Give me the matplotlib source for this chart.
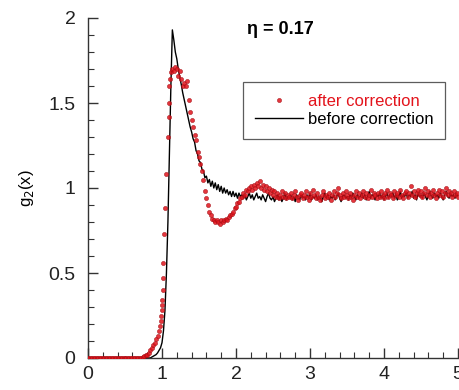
import numpy as np
import matplotlib
matplotlib.use("Agg")
import matplotlib.pyplot as plt
from matplotlib.ticker import MultipleLocator

plt.rcParams['font.family'] = ['Liberation Sans', 'DejaVu Sans']

# pair correlation g2(x), eta = 0.17
# before correction : black line
before_x_flat = np.arange(0.0, 0.85, 0.02)
before_y_flat = [0.0] * len(before_x_flat)
before_x = np.arange(0.86, 5.001, 0.02)
before_y = [
    0.005, 0.01, 0.015, 0.02, 0.03, 0.045, 0.06, 0.09, 0.16, 0.28,
    0.50, 0.80, 1.20, 1.60, 1.93, 1.87, 1.80, 1.76, 1.70, 1.65,
    1.61, 1.56, 1.52, 1.48, 1.44, 1.40, 1.36, 1.33, 1.29, 1.27,
    1.22, 1.20, 1.16, 1.15, 1.11, 1.10, 1.06, 1.07, 1.03, 1.05,
    1.01, 1.04, 1.00, 1.03, 0.99, 1.02, 0.98, 1.01, 0.97, 1.00,
    0.97, 0.99, 0.96, 0.98, 0.95, 0.98, 0.95, 0.97, 0.94, 0.97,
    0.95, 0.96, 0.94,
    0.96, 0.93, 0.95, 0.97, 0.94, 0.96, 0.93, 0.95, 0.97, 0.94,
    0.95, 0.93, 0.96, 0.94, 0.92, 0.95, 0.97, 0.94, 0.93, 0.95,
    0.92, 0.94, 0.96, 0.93, 0.95, 0.92, 0.94, 0.97, 0.93, 0.95,
    0.94, 0.96, 0.93, 0.95, 0.92, 0.96, 0.94, 0.93, 0.96, 0.94,
    0.95, 0.93, 0.96, 0.94, 0.97, 0.93, 0.95, 0.94, 0.96, 0.93,
    0.95, 0.94, 0.92, 0.95, 0.97, 0.94, 0.96, 0.93, 0.95, 0.94,
    0.96, 0.93, 0.95, 0.97, 0.94, 0.92, 0.95, 0.96, 0.94, 0.95,
    0.93, 0.96, 0.94, 0.97, 0.95, 0.93, 0.96, 0.94, 0.95, 0.97,
    0.94, 0.96, 0.93, 0.95, 0.98, 0.94, 0.96, 0.95, 0.93, 0.96,
    0.95, 0.97, 0.94, 0.96, 0.93, 0.95, 0.97, 0.94, 0.96, 0.95,
    0.97, 0.94, 0.96, 0.93, 0.95, 0.98, 0.94, 0.96, 0.95, 0.97,
    0.94, 0.96, 0.95, 0.98, 0.94, 0.96, 0.93, 0.97, 0.95, 0.96,
    0.94, 0.97, 0.95, 0.93, 0.96, 0.98, 0.95, 0.94, 0.97, 0.95,
    0.96, 0.94, 0.97, 0.95, 0.93, 0.96, 0.98, 0.95, 0.94, 0.97,
    0.95, 0.96, 0.94, 0.97, 0.95,
]

# after correction : red dots
after_x_flat = np.arange(0.0, 0.73, 0.02)
after_y_flat = [0.0] * len(after_x_flat)
after_x_rise = [
    0.74, 0.76, 0.78, 0.80, 0.82, 0.84, 0.86, 0.88, 0.90, 0.92,
    0.94, 0.955, 0.97, 0.98, 0.99, 0.995, 1.0, 1.003, 1.008, 1.014,
    1.02, 1.027, 1.04, 1.05, 1.08, 1.09, 1.095, 1.10, 1.11, 1.12,
    1.14, 1.16, 1.18, 1.20, 1.22, 1.24, 1.26, 1.28,
]
after_y_rise = [
    0.005, 0.01, 0.015, 0.02, 0.03, 0.045, 0.06, 0.075, 0.09, 0.11,
    0.13, 0.16, 0.19, 0.22, 0.25, 0.28, 0.31, 0.34, 0.40, 0.47,
    0.56, 0.73, 0.88, 1.08, 1.30, 1.42, 1.50, 1.60, 1.64, 1.68,
    1.70, 1.69, 1.71, 1.70, 1.66, 1.69, 1.64, 1.60,
]
after_x = np.arange(1.30, 5.001, 0.02)
after_y = [
    1.62, 1.60, 1.63, 1.52, 1.45, 1.40, 1.36, 1.31, 1.28, 1.21,
    1.18, 1.14, 1.10, 1.05, 0.98, 0.94, 0.90, 0.86, 0.84, 0.82,
    0.81, 0.80, 0.81, 0.80, 0.79, 0.81, 0.80, 0.81, 0.82, 0.81,
    0.83, 0.84, 0.85, 0.86, 0.88, 0.89, 0.91, 0.92, 0.94, 0.95,
    0.97, 0.96, 0.99, 0.98, 1.00, 1.01, 0.99, 1.02, 1.00, 1.03,
    1.01, 1.04, 1.00, 1.02, 0.99, 1.01, 0.98, 1.00, 0.97, 0.99,
    0.96, 0.98, 0.95, 0.97, 0.94, 0.96, 0.98, 0.95, 0.97, 0.94,
    0.96,
    0.95, 0.97, 0.94, 0.96, 0.98, 0.95, 0.93, 0.96, 0.97, 0.94,
    0.96, 0.98, 0.95, 0.93, 0.97, 0.95, 0.99, 0.96, 0.94, 0.97,
    0.95, 0.93, 0.96, 0.98, 0.94, 0.96, 0.95, 0.97, 0.93, 0.96,
    0.98, 0.95, 0.97, 1.00, 0.96, 0.94, 0.97, 0.95, 0.98, 0.96,
    0.94, 0.97, 0.95, 0.93, 0.96, 0.98, 0.95, 0.97, 0.94, 0.96,
    0.98, 0.95, 0.97, 0.94, 0.96, 0.99, 0.95, 0.97, 0.96, 0.94,
    0.97, 0.95, 0.98, 0.96, 0.94, 0.97, 0.99, 0.95, 0.97, 0.96,
    0.94, 0.98, 0.96, 0.97, 0.95, 0.99, 0.96, 0.94, 0.97, 0.98,
    0.95, 0.97, 1.01, 0.96, 0.98, 0.95, 0.97, 0.99, 0.96, 0.98,
    0.95, 0.97, 1.00, 0.96, 0.98, 0.95, 0.97, 0.99, 0.96, 0.94,
    0.97, 0.99, 0.96, 0.98, 0.95, 0.97, 1.00, 0.96, 0.98, 0.97,
    0.95, 0.98, 0.96, 0.97, 0.95,
]

bx = np.concatenate([before_x_flat, before_x])
by = np.concatenate([before_y_flat, before_y])
rx = np.concatenate([after_x_flat, after_x_rise, after_x])
ry = np.concatenate([after_y_flat, after_y_rise, after_y])

fig = plt.figure(figsize=(4.6, 3.9), dpi=100)
ax = fig.add_axes([88/460, 32/390, 370/460, 340/390])

ax.plot(bx, by, color='black', lw=1.0, label='before correction', zorder=2)
ax.plot(rx, ry, ls='none', marker='o', ms=3.0, mfc='#e0141c', mec='#a00c12',
        mew=0.4, alpha=0.85, label='after correction', zorder=3)

ax.set_xlim(0, 5)
ax.set_ylim(0, 2)
ax.xaxis.set_major_locator(MultipleLocator(1))
ax.xaxis.set_minor_locator(MultipleLocator(0.2))
ax.yaxis.set_minor_locator(MultipleLocator(0.1))
ax.set_yticks([0, 0.5, 1, 1.5, 2])
ax.set_yticklabels(['0', '0.5', '1', '1.5', '2'])

for s in ['top', 'right']:
    ax.spines[s].set_visible(False)
for s in ['left', 'bottom']:
    ax.spines[s].set_color('#333333')
    ax.spines[s].set_linewidth(1.0)

ax.tick_params(which='major', direction='in', length=7, width=1.0,
               color='#333333', labelsize=14, labelcolor='#222222')
ax.tick_params(which='minor', direction='in', length=4, width=0.8, color='#333333')
ax.tick_params(axis='y', which='major', pad=9)
ax.tick_params(axis='x', which='major', pad=6)

ax.set_ylabel('g$_2$(x)', fontsize=12, labelpad=9)
ax.text(0.43, 0.965, 'η = 0.17', transform=ax.transAxes, fontsize=13,
        fontweight='bold', va='center', ha='left')

handles, labels = ax.get_legend_handles_labels()
leg = ax.legend(handles[::-1], labels[::-1], loc='upper left',
                bbox_to_anchor=(0.419, 0.812), borderaxespad=0,
                fontsize=12, frameon=True, fancybox=False, edgecolor='#333333',
                handlelength=2.9, handletextpad=0.3, labelspacing=0.2,
                borderpad=0.7, numpoints=1)
leg.get_frame().set_linewidth(0.9)
leg.get_texts()[0].set_color('#e3141c')

fig.savefig('out.png', dpi=100)
